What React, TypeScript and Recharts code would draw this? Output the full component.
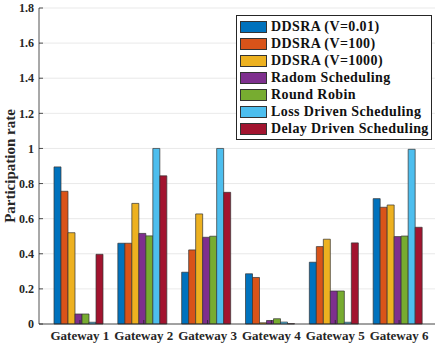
import React from 'react';
import { BarChart, Bar, XAxis, YAxis, CartesianGrid, Legend } from 'recharts';

const categories = ['Gateway 1', 'Gateway 2', 'Gateway 3', 'Gateway 4', 'Gateway 5', 'Gateway 6'];
const ddsraV001 = [0.895, 0.46, 0.295, 0.286, 0.352, 0.714];
const ddsraV100 = [0.756, 0.46, 0.422, 0.265, 0.441, 0.665];
const ddsraV1000 = [0.52, 0.687, 0.627, 0.007, 0.483, 0.678];
const radomScheduling = [0.057, 0.516, 0.494, 0.02, 0.188, 0.498];
const roundRobin = [0.057, 0.502, 0.5, 0.03, 0.188, 0.501];
const lossDriven = [0.01, 1.0, 1.0, 0.011, 0.01, 0.995];
const delayDriven = [0.397, 0.844, 0.75, 0.002, 0.462, 0.551];
const yTicks = [0, 0.2, 0.4, 0.6, 0.8, 1, 1.2, 1.4, 1.6, 1.8];

const series = [
  { key: 'v001', name: 'DDSRA (V=0.01)', color: '#0072BD', values: ddsraV001 },
  { key: 'v100', name: 'DDSRA (V=100)', color: '#D95319', values: ddsraV100 },
  { key: 'v1000', name: 'DDSRA (V=1000)', color: '#EDB120', values: ddsraV1000 },
  { key: 'radom', name: 'Radom Scheduling', color: '#7E2F8E', values: radomScheduling },
  { key: 'rr', name: 'Round Robin', color: '#77AC30', values: roundRobin },
  { key: 'loss', name: 'Loss Driven Scheduling', color: '#4DBEEE', values: lossDriven },
  { key: 'delay', name: 'Delay Driven Scheduling', color: '#A2142F', values: delayDriven },
];

const data = categories.map((name, i) => {
  const row: Record<string, string | number> = { name };
  series.forEach((s) => {
    row[s.key] = s.values[i];
  });
  return row;
});

const FONT = '"Liberation Serif", "Times New Roman", serif';
const AXIS = '#262626';

const LeftTick = ({ x, y, payload }: any) => (
  <g>
    <line x1={x} x2={x + 4} y1={y} y2={y} stroke={AXIS} strokeWidth={0.8} />
    <text x={x - 5} y={y} dy="0.35em" textAnchor="end" fontFamily={FONT} fontWeight="bold" fontSize={12} fill={AXIS}>
      {String(payload.value)}
    </text>
  </g>
);

const RightTick = ({ x, y }: any) => (
  <line x1={x - 4} x2={x} y1={y} y2={y} stroke={AXIS} strokeWidth={0.8} />
);

const BottomTick = ({ x, y, payload }: any) => (
  <g>
    <line x1={x} x2={x} y1={y} y2={y - 4} stroke={AXIS} strokeWidth={0.8} />
    <text x={x} y={y + 16} textAnchor="middle" fontFamily={FONT} fontWeight="bold" fontSize={13} fill={AXIS}>
      {payload.value}
    </text>
  </g>
);

const TopTick = ({ x, y }: any) => (
  <line x1={x} x2={x} y1={y} y2={y + 4} stroke={AXIS} strokeWidth={0.8} />
);

const yLabel = () => (
  <text
    x={9.5}
    y={166}
    dy="0.35em"
    textAnchor="middle"
    transform="rotate(-90, 9.5, 166)"
    fontFamily={FONT}
    fontWeight="bold"
    fontSize={15}
    fill={AXIS}
  >
    Participation rate
  </text>
);

const LegendBox = () => (
  <div
    style={{
      border: `1px solid ${AXIS}`,
      background: '#fff',
      padding: '2px 3px',
      boxSizing: 'border-box',
      width: 196,
    }}
  >
    {series.map((s) => (
      <div key={s.key} style={{ display: 'flex', alignItems: 'center', height: 17 }}>
        <span
          style={{
            display: 'inline-block',
            width: 27,
            height: 12,
            background: s.color,
            border: '1px solid #333',
            boxSizing: 'border-box',
            marginRight: 4,
            flexShrink: 0,
          }}
        />
        <span
          style={{
            fontFamily: FONT,
            fontWeight: 'bold',
            fontSize: 14,
            letterSpacing: 0.4,
            color: '#111',
            whiteSpace: 'nowrap',
          }}
        >
          {s.name}
        </span>
      </div>
    ))}
  </div>
);

export default function App() {
  return (
    <div style={{ position: 'absolute', left: 0, top: 0, width: 443, height: 345, background: '#fff' }}>
      <BarChart
        width={443}
        height={345}
        data={data}
        margin={{ top: 8, right: 8, bottom: 0, left: 0 }}
        barCategoryGap={6}
        barGap={0}
      >
        <CartesianGrid vertical={false} stroke="#e3e3e3" strokeWidth={0.8} />
        <XAxis
          dataKey="name"
          height={21}
          padding={{ left: 9, right: 4 }}
          tickSize={0}
          tickMargin={0}
          tick={<BottomTick />}
          axisLine={{ stroke: AXIS, strokeWidth: 0.8 }}
          interval={0}
        />
        <XAxis
          xAxisId="top"
          dataKey="name"
          orientation="top"
          height={0}
          padding={{ left: 9, right: 4 }}
          tickSize={0}
          tickMargin={0}
          tick={<TopTick />}
          axisLine={{ stroke: AXIS, strokeWidth: 0.8 }}
          interval={0}
        />
        <YAxis
          width={39}
          domain={[0, 1.8]}
          ticks={yTicks}
          tickSize={0}
          tickMargin={0}
          tick={<LeftTick />}
          axisLine={{ stroke: AXIS, strokeWidth: 0.8 }}
          interval={0}
          label={{ content: yLabel }}
        />
        <YAxis
          yAxisId="right"
          orientation="right"
          width={0}
          domain={[0, 1.8]}
          ticks={yTicks}
          tickSize={0}
          tickMargin={0}
          tick={<RightTick />}
          axisLine={{ stroke: AXIS, strokeWidth: 0.8 }}
          interval={0}
        />
        <Legend
          layout="vertical"
          align="center"
          verticalAlign="middle"
          content={() => <LegendBox />}
          wrapperStyle={{ left: 236, top: 15, width: 196 }}
        />
        {series.map((s) => (
          <Bar
            key={s.key}
            dataKey={s.key}
            name={s.name}
            fill={s.color}
            stroke="#333"
            strokeWidth={0.7}
            isAnimationActive={false}
          />
        ))}
      </BarChart>
    </div>
  );
}
